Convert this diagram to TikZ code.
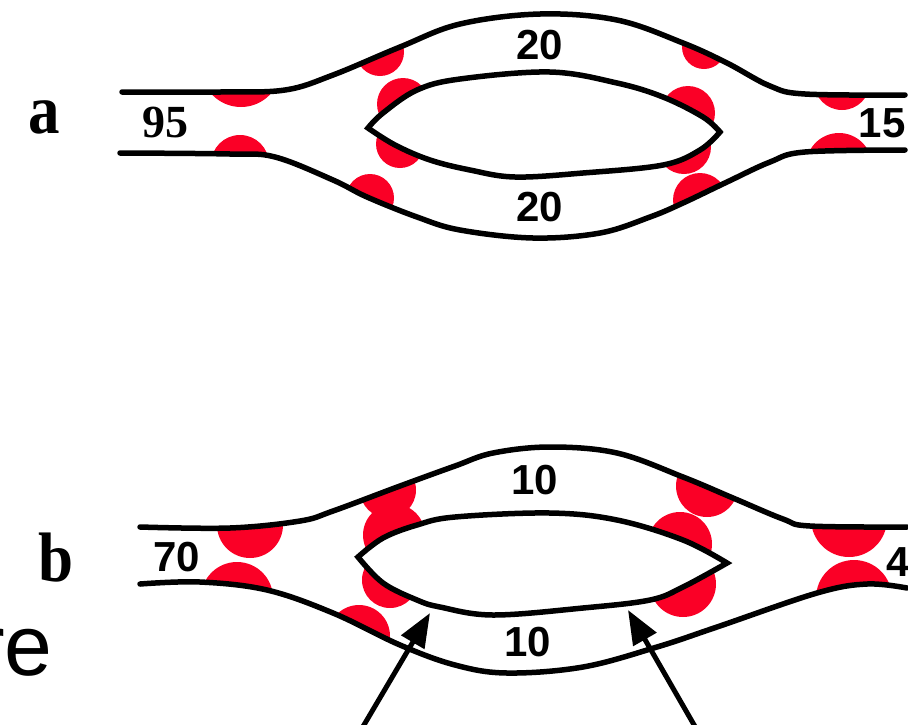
\documentclass[tikz,border=0pt]{standalone}
\usepackage{fontspec}
\setmainfont{Liberation Serif}
\setsansfont{Liberation Sans}
\usetikzlibrary{arrows.meta}
\definecolor{blobred}{RGB}{250,0,38}

% wall curves through sample points (pixel units, y downwards)
\def\TA{(122,92) (220,92) (285,90) (333,75) (400,47) (460,24) (540,14) (617,20) (683,43) (727,63) (770,86) (805,94) (905,95)}
\def\BA{(120,153) (230,154) (275,157) (333,180) (367,197) (417,217) (460,230) (533,238) (600,233) (650,217) (683,203) (727,182) (770,162) (805,152) (905,150)}
\def\LAu{(368,128) (383,113) (417,90) (460,79) (550,72) (617,83) (663,97) (703,117) (720,132)}
\def\LAl{(720,132) (700,150) (663,165) (583,173) (515,177) (470,170) (430,160) (395,145) (368,128)}
\def\TB{(140,527) (230,528) (300,521) (333,511) (400,486) (455,466) (493,453) (550,447) (617,453) (683,477) (733,498) (783,519) (810,526) (907,527)}
\def\BB{(140,584) (200,582) (267,590) (333,613) (400,645) (455,665) (507,673) (583,667) (657,647) (717,627) (817,593) (867,584) (907,588)}
\def\LBu{(358,557) (383,538) (417,525) (455,517) (550,513) (617,520) (683,540) (727,563)}
\def\LBl{(727,563) (683,587) (650,600) (583,608) (493,615) (440,607) (417,600) (383,583) (358,557)}

% #1 path command, #2 point list, #3 rest of the path
\newcommand\curvecmd[3]{\edef\curvetmp{\unexpanded{#1} plot[smooth,tension=0.6] coordinates {#2} \unexpanded{#3}}\curvetmp}
% #1 path command, #2 upper point list, #3 lower point list
\newcommand\lenscmd[3]{\edef\curvetmp{\unexpanded{#1} plot[smooth,tension=0.6] coordinates {#2} -- plot[smooth,tension=0.6] coordinates {#3} -- cycle;}\curvetmp}

\begin{document}
\begin{tikzpicture}[x=1pt,y=-1pt,
  wall/.style={line width=5.5pt, line cap=round, line join=round},
  lensline/.style={line width=5.5pt, line join=miter},
  blob/.style={fill=blobred},
  num/.style={font=\sffamily\bfseries\fontsize{42}{42}\selectfont, inner sep=0pt},
  serifnum/.style={font=\rmfamily\bfseries\fontsize{46}{46}\selectfont, inner sep=0pt},
  panel/.style={font=\rmfamily\bfseries\fontsize{70}{70}\selectfont, inner sep=0pt, xscale=0.9},
  pointer/.style={line width=5pt, -{Triangle[length=34pt,width=26pt]}}]
\useasboundingbox (0,0) rectangle (908,724);
\clip (0,0) rectangle (908,724);

% ---------- panel a: red cells inside the channel ----------
\begin{scope}
  \curvecmd{\clip}{\TA}{-- (905,330) -- (122,330) -- cycle;}
  \curvecmd{\clip}{\BA}{-- (905,-10) -- (120,-10) -- cycle;}
  \fill[blob] (241,67) circle[radius=40pt];
  \fill[blob] (240,164) circle[radius=29pt];
  \fill[blob] (380,52) circle[radius=24pt];
  \fill[blob] (370,198) circle[radius=24pt];
  \fill[blob] (403,104) circle[radius=26pt];
  \fill[blob] (400,144) circle[radius=24pt];
  \fill[blob] (704,47) circle[radius=22pt];
  \fill[blob] (688,113) circle[radius=27pt];
  \fill[blob] (684,147) circle[radius=27pt];
  \fill[blob] (700,200) circle[radius=27pt];
  \fill[blob] (842,82) circle[radius=28pt];
  \fill[blob] (839,166) circle[radius=33pt];
\end{scope}
\lenscmd{\fill[white]}{\LAu}{\LAl}
\curvecmd{\draw[wall]}{\TA}{;}
\curvecmd{\draw[wall]}{\BA}{;}
\lenscmd{\draw[lensline]}{\LAu}{\LAl}

\node[panel] (la) at (44,117) {a};
\node[serifnum] (n95) at (165,122) {95};
\node[num] (n20t) at (540,45) {20};
\node[num] (n20b) at (540,207) {20};
\node[num] (n15) at (882,123) {15};

% ---------- panel b ----------
\begin{scope}
  \curvecmd{\clip}{\TB}{-- (907,740) -- (140,740) -- cycle;}
  \curvecmd{\clip}{\BB}{-- (907,400) -- (140,400) -- cycle;}
  \fill[blob] (250,525) circle[radius=33pt];
  \fill[blob] (237,598) circle[radius=36pt];
  \fill[blob] (388,490) circle[radius=28pt];
  \fill[blob] (394,535) circle[radius=31pt];
  \fill[blob] (390,580) circle[radius=28pt];
  \fill[blob] (359,636) circle[radius=31pt];
  \fill[blob] (707,486) circle[radius=31pt];
  \fill[blob] (680,544) circle[radius=32pt];
  \fill[blob] (683,584) circle[radius=33pt];
  \fill[blob] (849,519) circle[radius=38pt];
  \fill[blob] (854,598) circle[radius=38pt];
\end{scope}
\lenscmd{\fill[white]}{\LBu}{\LBl}
\curvecmd{\draw[wall]}{\TB}{;}
\curvecmd{\draw[wall]}{\BB}{;}
\lenscmd{\draw[lensline]}{\LBu}{\LBl}

\node[panel] (lb) at (56,558) {b};
\node[num] (n70) at (177,557) {70};
\node[num] (n10t) at (535,480) {10};
\node[num] (n10b) at (528,642) {10};
\node[num, anchor=west] (n4) at (886,562) {4};

% pointers to the narrowed lower channel
\coordinate (t1) at (430,613);
\coordinate (s1) at (361,730);
\coordinate (t2) at (628,610);
\coordinate (s2) at (697,730);
\draw[pointer] (s1) -- (t1);
\draw[pointer] (s2) -- (t2);

% trailing text fragment at the left edge
\node[font=\sffamily\fontsize{86}{86}\selectfont, inner sep=0pt, anchor=base east] (frag) at (53,675) {re};
\end{tikzpicture}
\end{document}
